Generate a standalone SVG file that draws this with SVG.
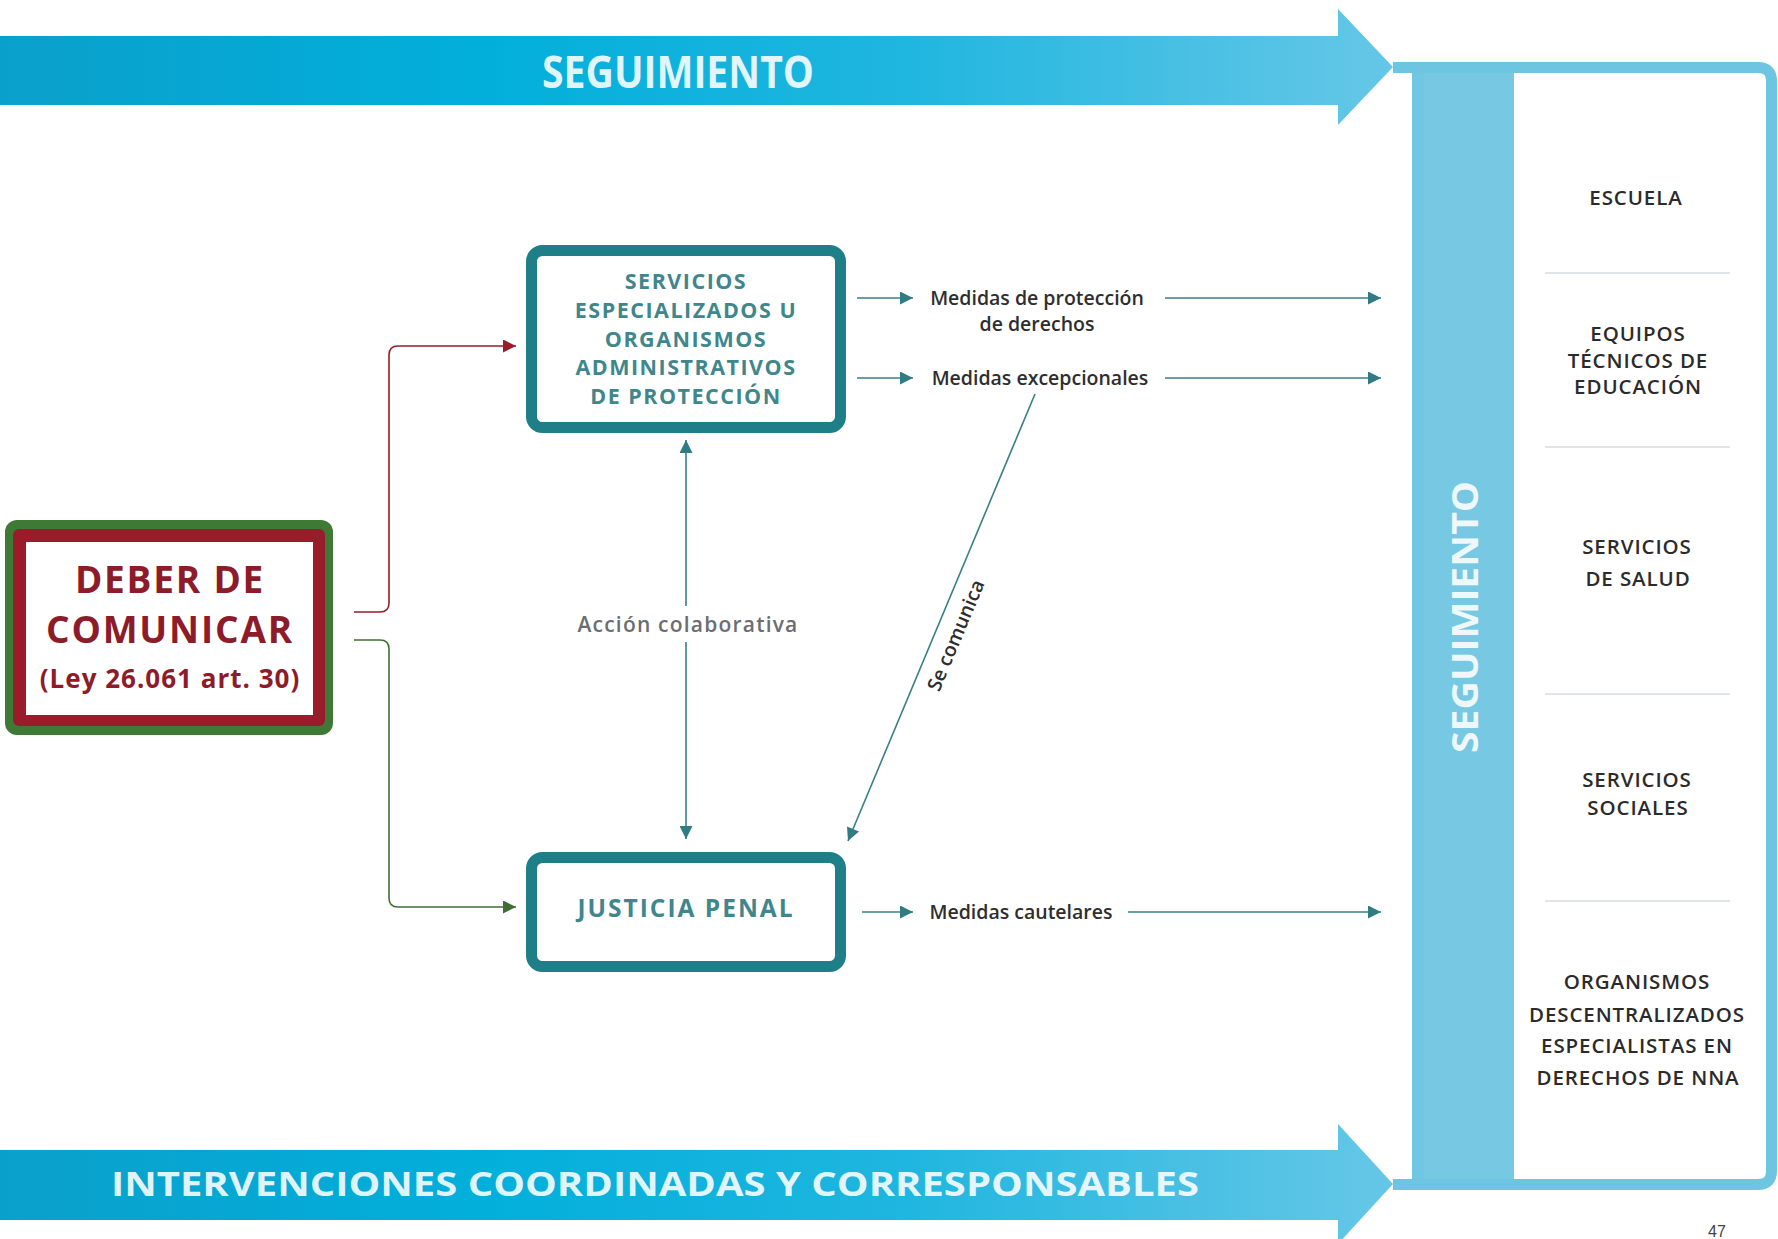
<svg xmlns="http://www.w3.org/2000/svg" width="1778" height="1239" viewBox="0 0 1778 1239">
<defs>
<linearGradient id="band" x1="0" y1="0" x2="1" y2="0">
<stop offset="0" stop-color="#0aa0cb"/>
<stop offset="0.35" stop-color="#02afdb"/>
<stop offset="0.65" stop-color="#1fb6df"/>
<stop offset="1" stop-color="#66c7e7"/>
</linearGradient>
<marker id="ahTeal" viewBox="0 0 10 10" refX="10" refY="5" markerWidth="15" markerHeight="13" markerUnits="userSpaceOnUse" orient="auto-start-reverse">
<path d="M0,0 L10,5 L0,10 z" fill="#2f7c83"/>
</marker>
<marker id="ahRed" viewBox="0 0 10 10" refX="10" refY="5" markerWidth="15" markerHeight="13" markerUnits="userSpaceOnUse" orient="auto">
<path d="M0,0 L10,5 L0,10 z" fill="#9b1b2b"/>
</marker>
<marker id="ahGreen" viewBox="0 0 10 10" refX="10" refY="5" markerWidth="15" markerHeight="13" markerUnits="userSpaceOnUse" orient="auto">
<path d="M0,0 L10,5 L0,10 z" fill="#3f6e35"/>
</marker>
</defs>
<style>
.band-text{font-family:"Open Sans","Liberation Sans",sans-serif;font-weight:700;fill:#ffffff;fill-opacity:0.88}
.teal-box{fill:#ffffff;stroke:#1f7f88;stroke-width:11}
.teal-text{font-family:"Open Sans","Liberation Sans",sans-serif;font-weight:700;fill:#3f868d;text-anchor:middle}
.red-text{font-family:"Open Sans","Liberation Sans",sans-serif;font-weight:700;fill:#8c1c2a;text-anchor:middle}
.item{font-family:"Open Sans","Liberation Sans",sans-serif;font-weight:600;font-size:20.5px;fill:#2b2b2b;text-anchor:middle;letter-spacing:0.9px}
.lbl{font-family:"Open Sans","Liberation Sans",sans-serif;font-weight:600;font-size:19.5px;fill:#2e2e2e;text-anchor:middle}
.sep{stroke:#d5dde0;stroke-width:1.5}
.conn{fill:none;stroke:#3a7f86;stroke-width:1.6}
</style>

<!-- top banner -->
<g id="banner-seguimiento">
<path d="M0,36 H1338 V9 L1393,67 L1338,125 V105 H0 Z" fill="url(#band)"/>
<text class="band-text" x="678" y="88" font-size="44" text-anchor="middle" textLength="272" lengthAdjust="spacingAndGlyphs">SEGUIMIENTO</text>
</g>

<!-- right frame -->
<g id="frame-seguimiento">
<path d="M1393,67.5 H1758 Q1771.5,67.5 1771.5,81 V1171 Q1771.5,1184.5 1758,1184.5 H1393" fill="#ffffff" stroke="#6ec5e1" stroke-width="11"/>
<rect x="1412" y="73" width="102" height="1106" fill="#77c9e3"/>
<rect x="1412" y="73" width="12" height="1106" fill="#6cc6e4" opacity="0.6"/>
<text class="band-text" x="0" y="0" font-size="36" text-anchor="middle" textLength="272" lengthAdjust="spacingAndGlyphs" fill-opacity="0.6" transform="translate(1478,617) rotate(-90)">SEGUIMIENTO</text>
</g>

<!-- bottom banner -->
<g id="banner-intervenciones">
<path d="M0,1150 H1338 V1124 L1393,1184 L1338,1244 V1220 H0 Z" fill="url(#band)"/>
<text class="band-text" x="111" y="1196" font-size="34" textLength="1088" lengthAdjust="spacingAndGlyphs" fill-opacity="0.82">INTERVENCIONES COORDINADAS Y CORRESPONSABLES</text>
</g>

<!-- right column items -->
<g id="item-escuela"><text class="item" x="1636" y="205">ESCUELA</text></g>
<line class="sep" x1="1545" y1="273" x2="1730" y2="273"/>
<g id="item-equipos">
<text class="item" x="1638" y="341">EQUIPOS</text>
<text class="item" x="1638" y="368">TÉCNICOS DE</text>
<text class="item" x="1638" y="394">EDUCACIÓN</text>
</g>
<line class="sep" x1="1545" y1="447" x2="1730" y2="447"/>
<g id="item-salud">
<text class="item" x="1637" y="554">SERVICIOS</text>
<text class="item" x="1638" y="586">DE SALUD</text>
</g>
<line class="sep" x1="1545" y1="694" x2="1730" y2="694"/>
<g id="item-sociales">
<text class="item" x="1637" y="787">SERVICIOS</text>
<text class="item" x="1638" y="815">SOCIALES</text>
</g>
<line class="sep" x1="1545" y1="901" x2="1730" y2="901"/>
<g id="item-organismos">
<text class="item" x="1637" y="989">ORGANISMOS</text>
<text class="item" x="1637" y="1022">DESCENTRALIZADOS</text>
<text class="item" x="1637" y="1053">ESPECIALISTAS EN</text>
<text class="item" x="1638" y="1085">DERECHOS DE NNA</text>
</g>

<!-- deber de comunicar -->
<g id="deber-de-comunicar">
<rect x="5" y="520" width="328" height="215" rx="12" fill="#3e7a35"/>
<rect x="13" y="529" width="312" height="197" rx="6" fill="#9a1b2a"/>
<rect x="26" y="542" width="287" height="173" fill="#ffffff"/>
<text class="red-text" x="170" y="593" font-size="37" letter-spacing="1.8">DEBER DE</text>
<text class="red-text" x="170" y="643" font-size="37" letter-spacing="1.8">COMUNICAR</text>
<text class="red-text" x="170" y="688" font-size="26" letter-spacing="1">(Ley 26.061 art. 30)</text>
</g>

<!-- servicios box -->
<g id="servicios-especializados">
<rect class="teal-box" x="531.5" y="250.5" width="309" height="177" rx="11"/>
<text class="teal-text" x="686" y="289" font-size="21.5" letter-spacing="1.5">SERVICIOS</text>
<text class="teal-text" x="686" y="318" font-size="21.5" letter-spacing="1.5">ESPECIALIZADOS U</text>
<text class="teal-text" x="686" y="347" font-size="21.5" letter-spacing="1.5">ORGANISMOS</text>
<text class="teal-text" x="686" y="375" font-size="21.5" letter-spacing="1.5">ADMINISTRATIVOS</text>
<text class="teal-text" x="686" y="404" font-size="21.5" letter-spacing="1.5">DE PROTECCIÓN</text>
</g>

<!-- justicia penal box -->
<g id="justicia-penal">
<rect class="teal-box" x="531.5" y="857.5" width="309" height="109" rx="11"/>
<text class="teal-text" x="686" y="917" font-size="24.5" letter-spacing="2" fill="#4a8187">JUSTICIA PENAL</text>
</g>

<!-- connectors -->
<g id="connectors">
<path d="M354,612 H380 Q389,612 389,603 V355 Q389,346 398,346 H516" fill="none" stroke="#9b1b2b" stroke-width="1.6" marker-end="url(#ahRed)"/>
<path d="M354,640 H380 Q389,640 389,649 V898 Q389,907 398,907 H516" fill="none" stroke="#3f6e35" stroke-width="1.6" marker-end="url(#ahGreen)"/>
<path class="conn" d="M686,440 V839" marker-start="url(#ahTeal)" marker-end="url(#ahTeal)"/>
<rect x="566" y="606" width="244" height="36" fill="#ffffff"/>
<text x="688" y="632" font-family="'Open Sans','Liberation Sans',sans-serif" font-weight="600" font-size="21" fill="#6b6d70" text-anchor="middle" letter-spacing="1.2">Acción colaborativa</text>

<path class="conn" d="M857,298 H913" marker-end="url(#ahTeal)"/>
<path class="conn" d="M1165,298 H1381" marker-end="url(#ahTeal)"/>
<path class="conn" d="M857,378 H913" marker-end="url(#ahTeal)"/>
<path class="conn" d="M1165,378 H1381" marker-end="url(#ahTeal)"/>
<path class="conn" d="M862,912 H913" marker-end="url(#ahTeal)"/>
<path class="conn" d="M1128,912 H1381" marker-end="url(#ahTeal)"/>
<path class="conn" d="M1035,394 L848,841" marker-end="url(#ahTeal)"/>

<text class="lbl" x="1037" y="305">Medidas de protección</text>
<text class="lbl" x="1037" y="331">de derechos</text>
<text class="lbl" x="1040" y="385">Medidas excepcionales</text>
<text class="lbl" x="1021" y="919">Medidas cautelares</text>
<text class="lbl" x="0" y="0" font-size="19" fill="#4a4a4a" transform="translate(962,638) rotate(-67.3)">Se comunica</text>
</g>

<text x="1717" y="1237" font-family="'Liberation Sans',sans-serif" font-size="16" fill="#444444" text-anchor="middle">47</text>
</svg>
